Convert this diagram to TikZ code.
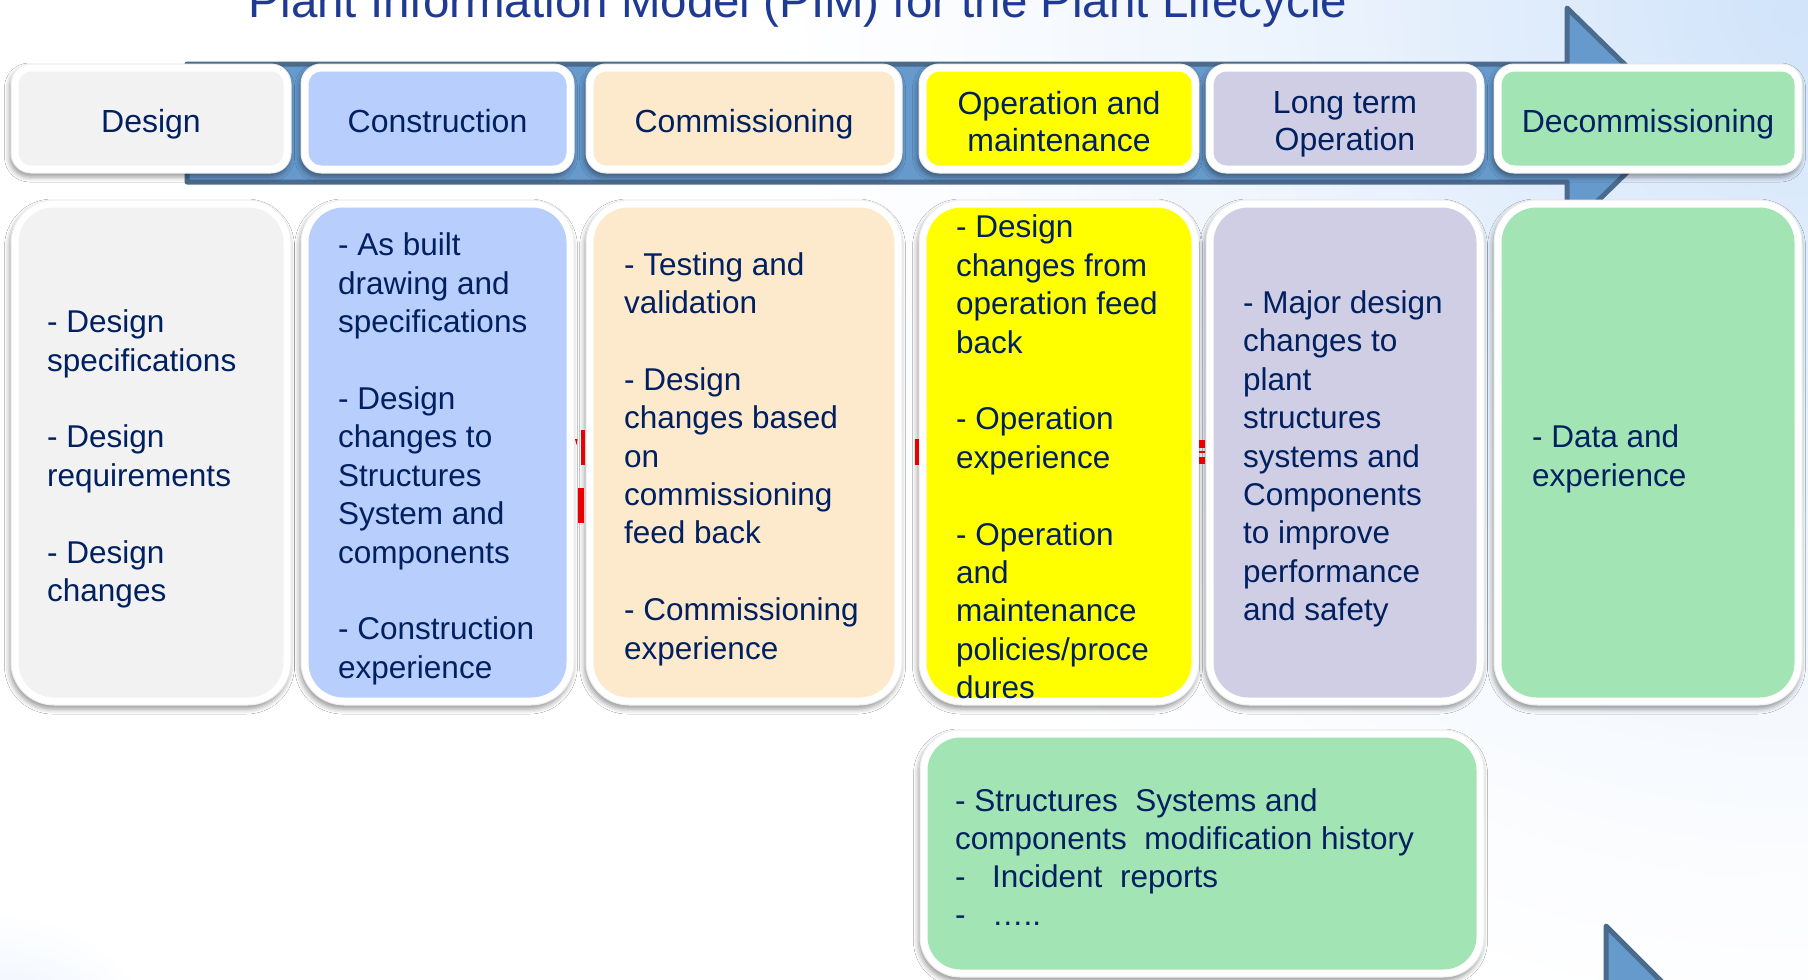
\documentclass[tikz,border=0pt]{standalone}
\usepackage{fontspec}
\setmainfont{Liberation Sans}
\usetikzlibrary{shadows.blur}
\definecolor{txt}{RGB}{0,32,96}
\definecolor{ttl}{RGB}{31,58,147}
\definecolor{barfill}{RGB}{102,153,204}
\definecolor{barline}{RGB}{74,106,142}
\definecolor{cDesign}{RGB}{242,242,242}
\definecolor{cConstr}{RGB}{184,206,252}
\definecolor{cComm}{RGB}{253,233,203}
\definecolor{cOper}{RGB}{255,255,0}
\definecolor{cLto}{RGB}{208,206,228}
\definecolor{cDecom}{RGB}{163,228,181}
\definecolor{bgblue}{RGB}{208,227,250}
\definecolor{bgblue2}{RGB}{226,237,252}
\definecolor{redmark}{RGB}{235,0,0}
\newcommand\pimbox[7]{%
  \filldraw[boxouter, rounded corners=#6] (#1,#3) rectangle (#2,#4);
  \fill[#5, rounded corners=#7] ({#1+7.5},{#3+7.5}) rectangle ({#2-7.5},{#4-7.5});
}
\begin{document}
\begin{tikzpicture}[x=1pt, y=-1pt,
  boxouter/.style={fill=white, draw=black!7, line width=1pt,
    blur shadow={shadow xshift=-1.5pt, shadow yshift=-4pt, shadow blur radius=5pt, shadow opacity=40}},
  headtxt/.style={text=txt, align=center, inner sep=0pt, font=\fontsize{32}{37}\selectfont},
  bodytxt/.style={text=txt, align=left, inner sep=0pt, anchor=west, font=\fontsize{31.5}{38.4}\selectfont},
  arrowpart/.style={fill=barfill, draw=barline, line width=5pt, line join=round}]
\useasboundingbox (0,0) rectangle (1808,980);
\clip (0,0) rectangle (1808,980);
\fill[white] (0,0) rectangle (1808,980);
% background glow, top right (stepped, opaque)
\foreach \i in {0,...,60}{%
  \pgfmathsetmacro\rr{1050*(1-\i/60)+4}%
  \pgfmathsetmacro\pp{100*(\i/60)^1.3}%
  \fill[bgblue!\pp!white] (1808,0) circle (\rr);
}
% background glow, bottom left
\foreach \i in {0,...,30}{%
  \pgfmathsetmacro\rr{170*(1-\i/30)+3}%
  \pgfmathsetmacro\pp{100*(\i/30)}%
  \fill[bgblue2!\pp!white] (0,1085) circle (\rr);
}

% title
\node[text=ttl, anchor=base, inner sep=0pt, font=\fontsize{47.5}{52}\selectfont] (title) at (798,17) {Plant Information Model (PIM) for the Plant Lifecycle};

% timeline arrow
\filldraw[arrowpart] (187,64) -- (1567,64) -- (1567,8) -- (1681,119.5) -- (1567,231) -- (1567,182) -- (187,182) -- cycle;
\filldraw[arrowpart] (1606,926) -- (1690,1010) -- (1606,1010) -- cycle;

% header boxes
\pimbox{11}{291}{64}{173}{cDesign}{20pt}{13pt}
\pimbox{301}{574}{64}{173}{cConstr}{20pt}{13pt}
\pimbox{586}{902}{64}{173}{cComm}{20pt}{13pt}
\pimbox{919}{1199}{64}{173}{cOper}{20pt}{13pt}
\pimbox{1206}{1484}{64}{173}{cLto}{20pt}{13pt}
\pimbox{1494}{1802}{64}{173}{cDecom}{20pt}{13pt}

% content boxes
\pimbox{11}{291}{200}{705}{cDesign}{43pt}{35pt}
\pimbox{301}{574}{200}{705}{cConstr}{43pt}{35pt}
\pimbox{586}{902}{200}{705}{cComm}{43pt}{35pt}
\pimbox{919}{1199}{200}{705}{cOper}{43pt}{35pt}
\pimbox{1206}{1484}{200}{705}{cLto}{43pt}{35pt}
\pimbox{1494}{1802}{200}{705}{cDecom}{43pt}{35pt}
\pimbox{920}{1484}{730}{977}{cDecom}{40pt}{33pt}

% red fragments between boxes
\fill[redmark] (581,430) rectangle (585,465);
\fill[redmark] (578,488) rectangle (584,523);
\fill[redmark] (575,439) -- (577.5,439) -- (576.5,445) -- cycle;
\fill[redmark] (915,439) rectangle (919,465);
\fill[redmark] (1199,440) rectangle (1205,448);
\fill[redmark] (1199,451) rectangle (1205,453);
\fill[redmark] (1199,457) rectangle (1205,464);

% header texts
\node[headtxt, anchor=base] (hDesign) at (151,132) {Design};
\node[headtxt, anchor=base] (hConstr) at (437.5,132) {Construction};
\node[headtxt, anchor=base] (hComm) at (744,132) {Commissioning};
\node[headtxt] (hOper) at (1059,121.4) {Operation and\\maintenance};
\node[headtxt] (hLto) at (1345,124.8) {Long term\\Operation};
\node[headtxt, anchor=base] (hDecom) at (1648,132) {Decommissioning};

% body texts
\node[bodytxt] (bDesign) at (47,459) {- Design\\specifications\\[38.4pt]- Design\\requirements\\[38.4pt]- Design\\changes};
\node[bodytxt] (bConstr) at (338,459) {- As built\\drawing and\\specifications\\[38.4pt]- Design\\changes to\\Structures\\System and\\components\\[38.4pt]- Construction\\experience};
\node[bodytxt] (bComm) at (624,459) {- Testing and\\validation\\[38.4pt]- Design\\changes based\\on\\commissioning\\feed back\\[38.4pt]- Commissioning\\experience};
\node[bodytxt] (bOper) at (956,457) {- Design\\changes from\\operation feed\\back\\[38.4pt]- Operation\\experience\\[38.4pt]- Operation\\and\\maintenance\\policies/proce\\dures};
\node[bodytxt] (bLto) at (1243,459) {- Major design\\changes to\\plant\\structures\\systems and\\Components\\to improve\\performance\\and safety};
\node[bodytxt] (bDecom) at (1532,459) {- Data and\\experience};
\node[bodytxt, font=\fontsize{31.5}{38}\selectfont] (bHist) at (955,857) {- Structures\ \ Systems and\\components\ \ modification history\\\makebox[37pt][l]{-}Incident\ \ reports\\\makebox[37pt][l]{-}…..};
\end{tikzpicture}
\end{document}
